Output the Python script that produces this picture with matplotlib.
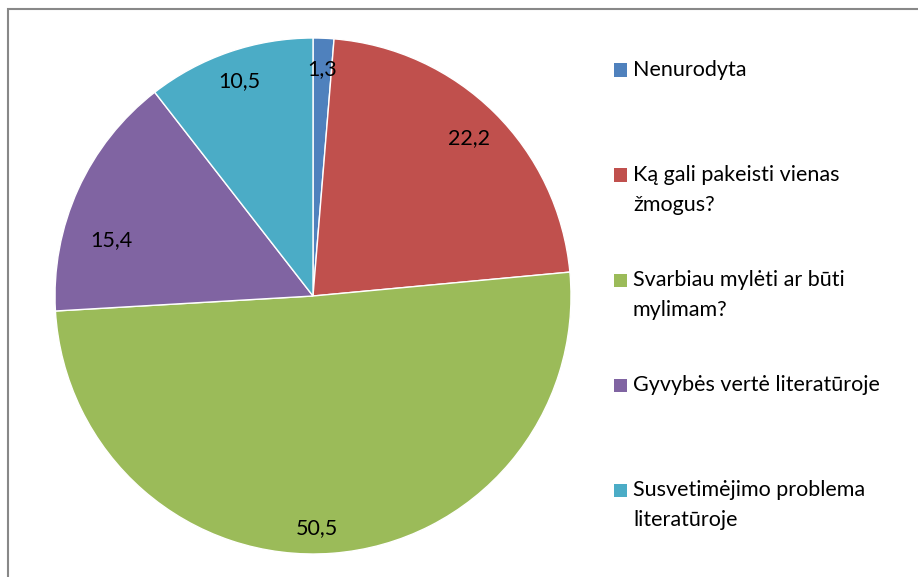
import numpy as np
import matplotlib.pyplot as plt
from matplotlib.patches import Rectangle

# Data
categories = ["Nenurodyta",
              "Ką gali pakeisti vienas\nžmogus?",
              "Svarbiau mylėti ar būti\nmylimam?",
              "Gyvybės vertė literatūroje",
              "Susvetimėjimo problema\nliteratūroje"]
values = [1.3, 22.2, 50.5, 15.4, 10.5]
colors = ["#4F81BD", "#C0504D", "#9BBB59", "#8064A2", "#4BACC6"]

# Excel "best fit" label placement: distance from centre and angle tweak
label_dist = [0.88, 0.86, 0.90, 0.81, 0.88]
label_shift = [0, 0, -3.3, 8.8, 0]

plt.rcParams['font.family'] = ['Lato', 'DejaVu Sans']
FS = 15.5

W, H = 918, 577
fig = plt.figure(figsize=(W / 100, H / 100), dpi=100)

# pie centre (313, 296) px, radius 258 px
cx, cy, r = 313, 296, 258
ax = fig.add_axes([(cx - r) / W, (H - cy - r) / H, 2 * r / W, 2 * r / H])

labels = [f"{v:.1f}".replace(".", ",") for v in values]
wedges, texts = ax.pie(values, labels=labels, colors=colors, startangle=90,
                       counterclock=False, labeldistance=0.87,
                       wedgeprops=dict(edgecolor="white", linewidth=1),
                       textprops=dict(ha="center", va="center", fontsize=FS,
                                      color="black"))
for w, t, d, s in zip(wedges, texts, label_dist, label_shift):
    ang = np.deg2rad((w.theta1 + w.theta2) / 2 + s)
    t.set_position((d * np.cos(ang), d * np.sin(ang)))

ax.set_xlim(-1, 1)
ax.set_ylim(-1, 1)
ax.set_aspect("auto")
ax.axis("off")

# legend drawn by hand so that each entry starts 105 px below the previous
leg_top = 70
for i, (cat, col) in enumerate(zip(categories, colors)):
    y0 = leg_top + i * 105
    fig.patches.append(Rectangle((614 / W, (H - y0 - 6.5) / H), 13 / W, 13 / H,
                                 transform=fig.transFigure, facecolor=col,
                                 edgecolor="none"))
    for j, line in enumerate(cat.split("\n")):
        fig.text(633 / W, (H - y0 - j * 30) / H, line, fontsize=FS,
                 ha="left", va="center", color="black")

# chart area border (only left and top edges visible)
fig.patches.append(Rectangle((8 / W, -0.05), 1.1, (H - 9) / H + 0.05,
                             transform=fig.transFigure, facecolor="none",
                             edgecolor="#888888", linewidth=1.5))

fig.savefig("out.png", dpi=100)
